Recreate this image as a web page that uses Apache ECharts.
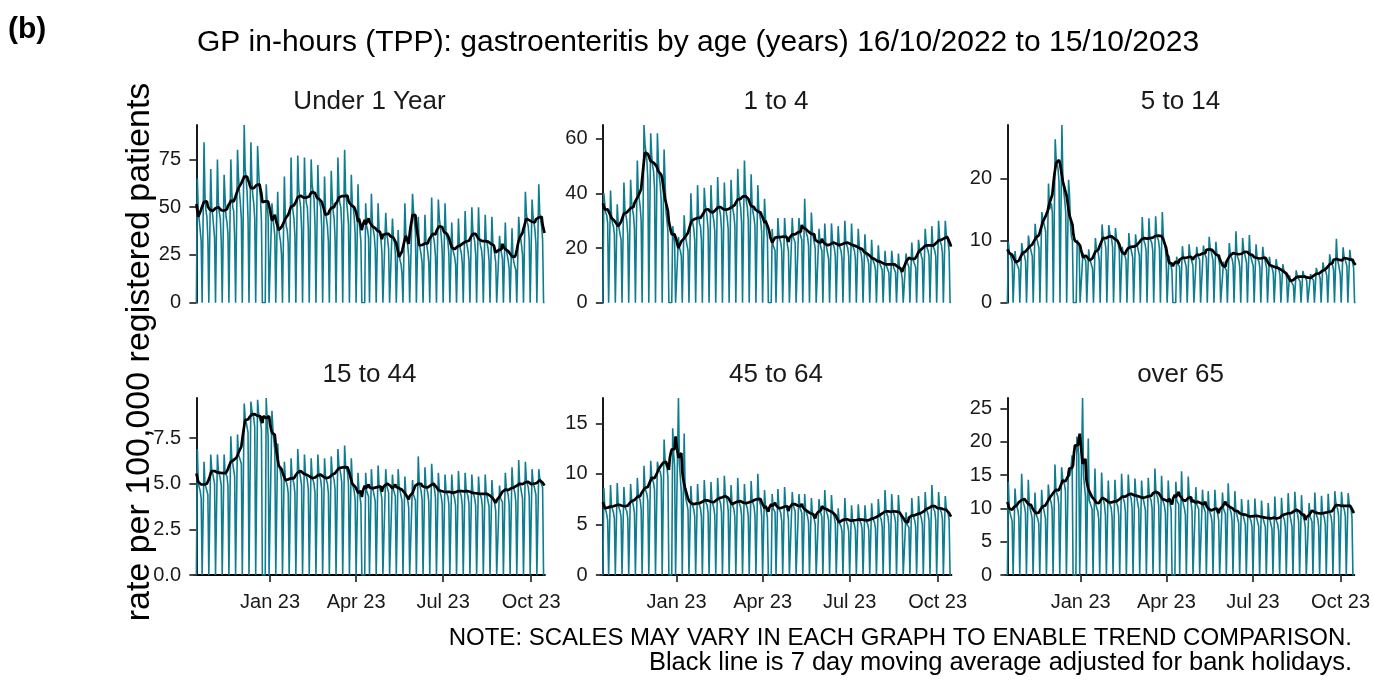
<!DOCTYPE html>
<html><head><meta charset="utf-8">
<script src="https://cdn.jsdelivr.net/npm/echarts@6/dist/echarts.min.js"></script>
<style>html,body{margin:0;padding:0;background:#fff}#c{width:1373px;height:686px}</style>
</head><body><div id="c"></div>
<script>
// ---------------- DATA ----------------
const startDate = '2022-10-16'; // first day (Sunday); one value per day, 365 days
const panelTitles = ['Under 1 Year', '1 to 4', '5 to 14', '15 to 44', '45 to 64', 'over 65'];
const bankHolidays = ['2022-12-26', '2022-12-27', '2023-01-02', '2023-04-07', '2023-04-10',
  '2023-05-01', '2023-05-08', '2023-05-29', '2023-08-28'];
const xTickDates = ['2023-01-01', '2023-04-01', '2023-07-01', '2023-10-01'];
const xTickLabels = ['Jan 23', 'Apr 23', 'Jul 23', 'Oct 23'];
const yTickLabels = [
  ['0', '25', '50', '75'],
  ['0', '20', '40', '60'],
  ['0', '10', '20'],
  ['0.0', '2.5', '5.0', '7.5'],
  ['0', '5', '10', '15'],
  ['0', '5', '10', '15', '20', '25']
];

// daily rates per 100,000 (rows = weeks Sun..Sat)
const under1 = [
0,65,47,43,38,32,0, 0,84,55,48,45,33,0, 0,70,50,46,40,34,0, 0,75,52,47,44,32,0,
0,67,55,45,42,36,0, 0,75,58,50,48,34,0, 0,80,66,58,52,44,0, 0,93,70,65,58,44,0,
0,84,64,56,52,44,0, 0,82,70,60,55,43,0, 0,0,0,62,52,45,0, 0,0,52,45,40,35,0,
0,58,40,35,32,25,0, 0,66,45,40,38,31,0, 0,76,52,48,44,35,0, 0,77,60,54,50,39,0,
0,76,58,52,50,39,0, 0,75,62,58,54,41,0, 0,72,56,52,50,40,0, 0,66,48,44,40,32,0,
0,69,55,48,44,34,0, 0,76,57,52,50,40,0, 0,80,58,53,48,41,0, 0,67,52,50,45,36,0,
0,62,44,38,32,0,0, 0,0,52,40,38,34,0, 0,57,42,38,35,28,0, 0,52,38,36,33,26,0,
0,0,47,36,33,28,0, 0,0,44,34,32,26,0, 0,38,25,22,20,15,0, 0,52,36,33,30,24,0,
0,0,57,48,42,37,0, 0,45,31,28,25,21,0, 0,46,32,30,26,21,0, 0,55,36,34,31,24,0,
0,54,44,40,35,27,0, 0,52,37,34,32,25,0, 0,42,28,26,24,20,0, 0,44,31,28,26,21,0,
0,48,33,30,27,22,0, 0,50,38,35,32,25,0, 0,50,34,30,28,23,0, 0,46,33,31,28,22,0,
0,45,31,28,25,21,0, 0,0,35,28,26,23,0, 0,42,28,25,22,18,0, 0,39,24,21,19,17,0,
0,45,36,34,30,25,0, 0,58,47,42,40,33,0, 0,54,45,42,38,31,0, 0,62,47,43,40,33,0,
0];

const age1to4 = [
0,40,36,33,32,29,0, 0,41,32,29,28,25,0, 0,36,29,27,25,23,0, 0,44,34,32,30,25,0,
0,45,37,34,32,27,0, 0,52,40,38,35,30,0, 0,65,58,55,52,45,0, 0,62,54,50,48,42,0,
0,62,52,46,43,37,0, 0,56,45,33,30,26,0, 0,0,0,28,25,22,0, 0,0,24,20,19,17,0,
0,32,25,23,21,19,0, 0,40,31,29,27,23,0, 0,43,32,29,28,23,0, 0,42,36,34,31,27,0,
0,43,34,32,30,26,0, 0,46,36,34,32,27,0, 0,44,35,33,31,27,0, 0,45,36,34,32,28,0,
0,49,40,37,35,29,0, 0,52,41,37,35,30,0, 0,47,36,33,31,28,0, 0,43,34,32,30,26,0,
0,38,31,27,24,0,0, 0,0,27,21,21,19,0, 0,31,25,23,22,19,0, 0,31,25,24,21,19,0,
0,0,31,24,23,22,0, 0,0,31,26,24,23,0, 0,38,27,25,24,21,0, 0,33,26,24,22,20,0,
0,0,27,22,20,19,0, 0,29,22,20,18,16,0, 0,29,23,21,20,17,0, 0,28,22,20,19,16,0,
0,30,22,21,20,17,0, 0,29,21,20,19,16,0, 0,27,21,19,18,15,0, 0,25,18,17,16,14,0,
0,23,16,15,14,12,0, 0,21,15,14,13,12,0, 0,19,14,13,13,11,0, 0,19,15,13,12,11,0,
0,18,13,12,11,9,0, 0,0,18,15,14,13,0, 0,22,16,15,14,13,0, 0,23,20,19,17,16,0,
0,27,22,20,19,17,0, 0,28,21,20,19,17,0, 0,30,24,22,21,18,0, 0,30,25,24,22,19,0,
0];

const age5to14 = [
0,9.8,8.2,7.8,7.6,6.6,0, 0,8.3,6.6,6.2,6.0,5.4,0, 0,9.6,8.3,7.9,7.5,6.7,0, 0,10.8,9.4,8.8,8.5,7.5,0,
0,12.7,10.9,10.2,9.9,8.8,0, 0,14.6,13.4,12.9,12.6,11.5,0, 0,19.2,15.0,15.3,16.0,14.5,0, 0,26.3,23.0,22.4,21.5,19.3,0,
0,28.6,20.2,17.8,16.4,14.5,0, 0,19.8,17.2,12.4,10.6,10.0,0, 0,0,0,10.1,9.6,9.1,0, 0,0,8.0,7.4,7.1,6.7,0,
0,8.6,7.0,6.6,6.3,5.5,0, 0,10.4,8.8,8.4,8.0,6.9,0, 0,12.6,10.7,10.2,9.8,8.7,0, 0,12.5,11.2,10.6,10.2,9.0,0,
0,12.0,10.4,9.8,9.4,8.4,0, 0,9.0,7.9,7.7,7.5,6.9,0, 0,11.2,9.2,8.8,8.5,7.3,0, 0,11.0,9.5,9.0,8.9,7.6,0,
0,13.8,10.6,9.8,9.4,8.4,0, 0,13.6,10.4,10.0,9.6,8.4,0, 0,13.9,11.0,10.4,10.0,8.7,0, 0,14.6,10.8,9.6,9.0,7.0,0,
0,7.6,6.4,5.9,5.3,0,0, 0,0,7.4,6.3,6.1,5.8,0, 0,9.1,7.4,7.0,6.7,5.8,0, 0,9.4,7.6,7.1,6.9,6.0,0,
0,0,9.0,7.6,7.3,6.9,0, 0,0,9.2,8.0,7.6,7.2,0, 0,10.6,8.8,8.3,8.0,6.8,0, 0,9.8,7.8,7.4,7.0,6.0,0,
0,0,6.6,5.8,5.6,5.2,0, 0,9.6,7.9,7.4,7.0,6.1,0, 0,11.5,7.8,7.2,6.8,5.7,0, 0,10.4,8.5,8.0,7.7,6.4,0,
0,10.9,7.8,7.1,6.8,5.9,0, 0,9.4,7.4,7.0,6.6,5.6,0, 0,9.0,7.5,7.1,6.8,5.6,0, 0,7.4,6.1,5.8,5.5,4.7,0,
0,7.0,5.8,5.5,5.2,4.5,0, 0,6.2,5.2,4.9,4.7,4.0,0, 0,4.4,3.6,3.4,3.3,2.8,0, 0,5.2,4.3,4.1,4.0,3.4,0,
0,5.1,4.4,4.1,3.9,3.5,0, 0,0,4.6,4.0,3.8,3.6,0, 0,5.6,4.9,4.6,4.5,3.9,0, 0,6.5,5.5,5.2,5.0,4.3,0,
0,7.8,6.6,6.3,6.0,5.3,0, 0,10.3,7.0,6.4,6.2,4.6,0, 0,8.9,7.4,7.0,6.8,5.9,0, 0,8.5,7.1,6.8,6.5,5.6,0,
0];

const age15to44 = [
0,6.9,5.0,4.8,4.6,4.2,0, 0,6.2,5.0,4.8,4.6,4.4,0, 0,6.6,5.8,5.6,5.5,5.0,0, 0,6.6,5.7,5.5,5.3,4.9,0,
0,6.6,5.6,5.5,5.4,4.9,0, 0,7.6,6.4,6.1,6.0,5.4,0, 0,7.7,6.6,6.5,6.6,6.1,0, 0,9.4,8.6,8.4,8.3,7.8,0,
0,9.5,9.0,8.8,8.6,8.1,0, 0,9.6,8.9,8.6,8.4,8.0,0, 0,0,0,9.7,8.5,7.6,0, 0,0,9.0,8.0,7.4,6.8,0,
0,7.2,6.1,5.9,5.6,5.2,0, 0,6.2,5.3,5.1,4.9,4.5,0, 0,6.4,5.4,5.2,5.0,4.5,0, 0,6.9,5.8,5.6,5.3,4.9,0,
0,6.6,5.6,5.4,5.2,4.7,0, 0,6.4,5.4,5.2,5.0,4.5,0, 0,6.6,5.6,5.4,5.2,4.7,0, 0,6.4,5.4,5.2,5.0,4.5,0,
0,6.5,5.6,5.5,5.2,4.7,0, 0,6.9,6.0,5.8,5.5,5.05,0, 0,7.1,6.0,5.8,5.6,5.0,0, 0,6.4,5.1,4.8,4.6,4.1,0,
0,5.6,4.6,4.3,3.9,0,0, 0,0,5.6,4.6,4.5,4.3,0, 0,5.8,4.8,4.6,4.5,4.05,0, 0,6.0,4.9,4.7,4.5,4.15,0,
0,0,5.8,4.9,4.8,4.5,0, 0,0,5.5,4.7,4.5,4.3,0, 0,5.8,4.8,4.6,4.5,4.05,0, 0,5.4,4.5,4.3,4.1,3.7,0,
0,0,5.2,4.4,4.3,4.1,0, 0,6.5,5.0,4.8,4.6,4.1,0, 0,5.9,4.9,4.7,4.5,4.0,0, 0,6.1,5.1,4.9,4.7,4.2,0,
0,5.6,4.7,4.5,4.3,3.9,0, 0,5.5,4.6,4.5,4.3,3.85,0, 0,5.5,4.6,4.4,4.2,3.8,0, 0,5.7,4.7,4.5,4.3,3.8,0,
0,5.6,4.7,4.5,4.3,3.9,0, 0,5.5,4.6,4.4,4.2,3.8,0, 0,5.4,4.5,4.4,4.2,3.75,0, 0,5.5,4.5,4.3,4.2,3.75,0,
0,5.2,4.3,4.1,3.9,3.5,0, 0,0,4.9,4.2,4.1,4.0,0, 0,5.6,4.8,4.6,4.4,3.85,0, 0,5.9,4.9,4.7,4.5,4.0,0,
0,6.3,5.0,4.8,4.7,4.2,0, 0,6.2,5.2,5.0,4.8,4.3,0, 0,5.8,5.1,4.9,4.8,4.4,0, 0,5.8,5.3,5.1,5.0,4.8,0,
0];

const age45to64 = [
0,8.6,6.6,6.4,6.0,5.4,0, 0,8.9,6.8,6.5,6.2,5.6,0, 0,9.1,7.0,6.6,6.3,5.75,0, 0,8.7,6.9,6.5,6.3,5.6,0,
0,9.0,7.4,7.2,6.8,6.1,0, 0,9.6,7.9,7.6,7.4,6.5,0, 0,10.8,8.6,8.3,8.0,7.3,0, 0,11.3,9.8,9.4,9.1,8.4,0,
0,11.2,10.6,10.4,10.2,9.6,0, 0,13.4,11.4,10.9,10.6,9.7,0, 0,0,0,14.5,12.0,10.8,0, 0,0,17.5,11.0,9.6,8.2,0,
0,14.0,8.2,7.4,7.0,6.4,0, 0,8.8,7.1,6.8,6.5,5.8,0, 0,9.0,7.2,6.9,6.6,5.8,0, 0,9.4,7.5,7.1,6.9,6.1,0,
0,9.2,7.3,7.0,6.6,5.9,0, 0,9.6,7.7,7.4,7.1,6.2,0, 0,9.8,7.9,7.6,7.3,6.4,0, 0,8.9,7.1,6.8,6.5,5.7,0,
0,9.6,7.3,7.0,6.7,5.9,0, 0,9.0,7.2,6.9,6.6,5.8,0, 0,9.3,7.4,7.1,6.8,5.9,0, 0,10.0,7.6,7.2,6.9,5.8,0,
0,8.4,6.8,6.3,5.7,0,0, 0,0,8.0,6.6,6.4,6.2,0, 0,8.5,6.7,6.4,6.1,5.3,0, 0,8.7,6.9,6.6,6.3,5.5,0,
0,0,8.2,6.9,6.6,6.3,0, 0,0,8.0,6.7,6.4,6.1,0, 0,8.0,6.4,6.1,5.8,5.2,0, 0,7.6,6.1,5.8,5.5,5.0,0,
0,0,7.5,6.3,6.1,5.7,0, 0,8.4,6.6,6.2,5.9,5.4,0, 0,7.9,6.3,6.0,5.7,5.1,0, 0,6.6,5.3,5.0,4.8,4.3,0,
0,7.6,5.5,5.2,4.9,4.3,0, 0,6.9,5.5,5.2,5.0,4.4,0, 0,7.0,5.6,5.3,5.1,4.5,0, 0,6.9,5.5,5.2,5.0,4.4,0,
0,7.1,5.7,5.4,5.2,4.6,0, 0,7.5,6.0,5.7,5.5,4.8,0, 0,8.4,6.4,6.0,5.8,4.9,0, 0,8.0,6.4,6.1,5.8,5.2,0,
0,7.9,6.3,6.0,5.7,5.1,0, 0,0,6.2,5.0,4.9,4.7,0, 0,7.6,6.0,5.7,5.4,4.8,0, 0,7.8,6.2,5.9,5.6,5.0,0,
0,8.2,6.6,6.3,6.0,5.4,0, 0,8.9,6.9,6.5,6.3,5.4,0, 0,8.2,6.7,6.4,6.2,5.5,0, 0,7.8,6.6,6.3,6.1,5.45,0,
0];

const over65 = [
0,14.0,9.8,9.2,8.9,8.1,0, 0,13.0,10.8,10.2,9.8,8.7,0, 0,15.2,11.4,10.8,10.3,9.3,0, 0,14.3,10.5,9.9,9.3,8.5,0,
0,12.4,9.2,8.8,8.4,7.7,0, 0,12.8,10.5,10.0,9.7,8.5,0, 0,13.6,11.8,11.3,10.9,9.9,0, 0,16.6,12.8,12.2,11.8,10.6,0,
0,16.2,14.6,14.0,13.6,12.6,0, 0,15.6,14.8,15.2,16.4,18.0,0, 0,0,0,20.8,19.6,18.0,0, 0,0,26.6,15.0,13.4,11.8,0,
0,20.5,11.2,10.8,10.6,9.9,0, 0,16.0,10.6,10.0,9.6,8.3,0, 0,15.4,11.8,11.2,10.6,9.0,0, 0,14.2,11.0,10.5,10.1,8.7,0,
0,14.3,11.3,10.7,10.3,8.9,0, 0,15.2,12.0,11.4,10.9,9.5,0, 0,15.1,12.4,11.9,11.5,10.1,0, 0,14.5,12.2,11.6,11.3,9.9,0,
0,14.2,11.8,11.3,11.0,9.7,0, 0,14.6,12.1,11.6,11.2,10.0,0, 0,16.0,12.6,12.0,11.6,10.3,0, 0,14.9,11.5,10.9,10.4,9.3,0,
0,14.2,11.4,10.6,9.8,0,0, 0,0,14.0,11.2,11.0,10.6,0, 0,15.6,11.3,10.6,10.0,9.0,0, 0,14.8,11.9,11.3,10.9,9.6,0,
0,0,13.2,10.6,10.3,9.9,0, 0,0,12.8,10.3,9.9,9.4,0, 0,12.6,9.8,9.3,8.9,7.9,0, 0,12.8,10.2,9.6,9.2,8.2,0,
0,0,12.4,10.0,9.6,9.2,0, 0,13.8,10.4,9.8,9.4,8.1,0, 0,12.6,9.7,9.1,8.8,7.8,0, 0,11.4,9.3,8.8,8.5,7.5,0,
0,11.3,8.9,8.5,8.1,7.2,0, 0,11.5,9.0,8.5,8.2,7.3,0, 0,11.2,8.8,8.3,8.0,7.2,0, 0,10.8,8.7,8.2,7.9,6.9,0,
0,11.8,8.5,8.0,7.6,6.6,0, 0,11.6,9.2,8.7,8.3,7.2,0, 0,12.3,9.4,8.9,8.6,7.3,0, 0,12.5,10.0,9.5,9.1,7.9,0,
0,12.0,9.1,8.6,8.2,7.1,0, 0,0,10.8,8.8,8.4,8.0,0, 0,12.4,9.4,8.9,8.5,7.3,0, 0,11.9,9.5,9.0,8.6,7.5,0,
0,12.2,9.7,9.2,8.8,7.6,0, 0,12.6,10.9,10.3,9.9,8.8,0, 0,12.5,10.7,10.2,9.8,8.8,0, 0,12.3,10.8,10.3,9.9,8.7,0,
0];

const panelData = [under1, age1to4, age5to14, age15to44, age45to64, over65];

// ---------------- HELPERS ----------------
const DAY = 86400000;
const t0 = Date.parse(startDate + 'T00:00:00Z');
const dayIndex = d => Math.round((Date.parse(d + 'T00:00:00Z') - t0) / DAY);
const holidaySet = new Set(bankHolidays.map(dayIndex));
function isWorkingDay(i) {
  const dow = new Date(t0 + i * DAY).getUTCDay();
  return dow !== 0 && dow !== 6 && !holidaySet.has(i);
}
// 7 day centred moving average over working days (adjusted for weekends / bank holidays)
function movingAverage(vals) {
  return vals.map((_, i) => {
    let s = 0, n = 0;
    for (let j = i - 3; j <= i + 3; j++) {
      if (j >= 0 && j < vals.length && isWorkingDay(j)) { s += vals[j]; n++; }
    }
    return [i, n ? s / n : null];
  });
}
const xTickPos = xTickDates.map(dayIndex);

// ---------------- LAYOUT ----------------
const FONT = '"Liberation Sans", Arial, Helvetica, sans-serif';
const colLeft = [194, 600.5, 1005];
const colWidth = 351;
const rowTop = [125, 398];
const rowHeight = [177.7, 177];
const TEAL = '#0f7d90';

const grids = [], xAxes = [], yAxes = [], series = [], graphics = [];
panelData.forEach((vals, p) => {
  const r = Math.floor(p / 3), c = p % 3;
  const bottom = r === 1;
  grids.push({ left: colLeft[c], top: rowTop[r], width: colWidth, height: rowHeight[r], containLabel: false });
  xAxes.push({
    type: 'value', gridIndex: p, min: -2.5, max: vals.length - 0.5,
    splitLine: { show: false },
    axisLine: { show: bottom, onZero: false, lineStyle: { color: '#000', width: 1.8 } },
    axisTick: { show: bottom, length: 7, customValues: xTickPos, lineStyle: { color: '#333', width: 1.8 } },
    axisLabel: {
      show: bottom, customValues: xTickPos, margin: 17, color: '#1a1a1a', fontSize: 20, fontFamily: FONT,
      formatter: v => { const k = xTickPos.indexOf(Math.round(v)); return k >= 0 ? xTickLabels[k] : ''; }
    }
  });
  const labs = yTickLabels[p];
  const vals2 = labs.map(parseFloat);
  yAxes.push({
    type: 'value', gridIndex: p, min: 0, max: 'dataMax',
    splitLine: { show: false },
    axisLine: { show: true, lineStyle: { color: '#000', width: 1.8 } },
    axisTick: { show: true, length: 7, customValues: vals2, lineStyle: { color: '#333', width: 1.8 } },
    axisLabel: {
      customValues: vals2, margin: 13, color: '#1a1a1a', fontSize: 20, fontFamily: FONT,
      formatter: v => { const k = vals2.findIndex(t => Math.abs(t - v) < 1e-9); return k >= 0 ? labs[k] : ''; }
    }
  });
  series.push({
    type: 'line', xAxisIndex: p, yAxisIndex: p, data: vals.map((v, i) => [i, v]),
    showSymbol: false, symbol: 'none', lineStyle: { color: TEAL, width: 1.6 }, z: 2, silent: true
  });
  series.push({
    type: 'line', xAxisIndex: p, yAxisIndex: p, data: movingAverage(vals),
    showSymbol: false, symbol: 'none', lineStyle: { color: '#000', width: 2.7 }, z: 3, silent: true
  });
  graphics.push({
    type: 'text', x: colLeft[c] + colWidth / 2, y: rowTop[r] - 23,
    style: { text: panelTitles[p], fill: '#1a1a1a', font: '26px ' + FONT,
      textAlign: 'center', textVerticalAlign: 'middle', align: 'center', verticalAlign: 'middle' }
  });
});

graphics.push(
  { type: 'text', x: 8, y: 30, style: { text: '(b)', fill: '#000', font: 'bold 30px ' + FONT,
    textAlign: 'left', textVerticalAlign: 'middle', align: 'left', verticalAlign: 'middle' } },
  { type: 'text', x: 698, y: 43, style: { text: 'GP in-hours (TPP): gastroenteritis by age (years) 16/10/2022 to 15/10/2023',
    fill: '#000', font: '30px ' + FONT, textAlign: 'center', textVerticalAlign: 'middle', align: 'center', verticalAlign: 'middle' } },
  { type: 'text', x: 140, y: 352, rotation: Math.PI / 2, style: { text: 'rate per 100,000 registered patients',
    fill: '#000', font: '34px ' + FONT, textAlign: 'center', textVerticalAlign: 'middle', align: 'center', verticalAlign: 'middle' } },
  { type: 'text', x: 1352, y: 638, style: { text: 'NOTE: SCALES MAY VARY IN EACH GRAPH TO ENABLE TREND COMPARISON.',
    fill: '#000', font: '24px ' + FONT, textAlign: 'right', textVerticalAlign: 'middle', align: 'right', verticalAlign: 'middle' } },
  { type: 'text', x: 1352, y: 663, style: { text: 'Black line is 7 day moving average adjusted for bank holidays.',
    fill: '#000', font: '25.5px ' + FONT, textAlign: 'right', textVerticalAlign: 'middle', align: 'right', verticalAlign: 'middle' } }
);

const chart = echarts.init(document.getElementById('c'), null, { renderer: 'canvas' });
chart.setOption({
  backgroundColor: '#fff',
  animation: false,
  textStyle: { fontFamily: FONT },
  grid: grids, xAxis: xAxes, yAxis: yAxes, series: series,
  graphic: { elements: graphics }
});
</script>
</body></html>
